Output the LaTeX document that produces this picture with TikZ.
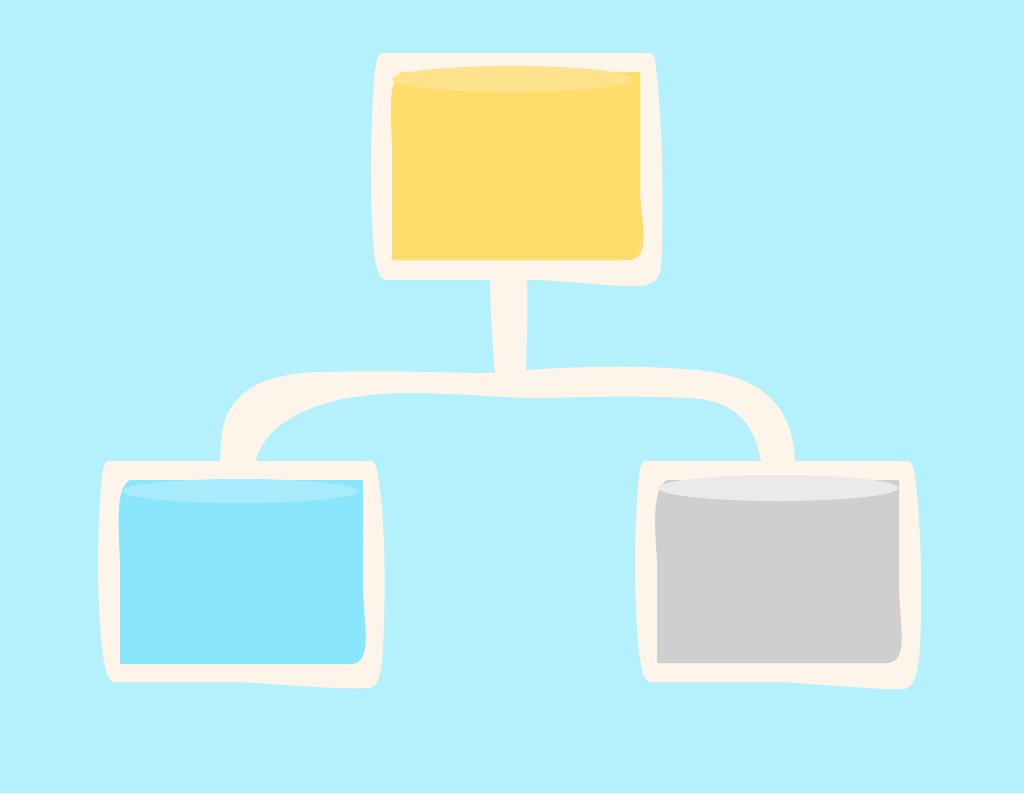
\documentclass[tikz,border=0pt]{standalone}
\definecolor{bgblue}{HTML}{B5F0FD}
\definecolor{cream}{HTML}{FDF5EA}
\definecolor{yel}{HTML}{FFDD6A}
\definecolor{yelhi}{HTML}{FFE38C}
\definecolor{blu}{HTML}{8AE6FD}
\definecolor{bluhi}{HTML}{A8EBFC}
\definecolor{gry}{HTML}{CFCFCF}
\definecolor{gryhi}{HTML}{EAEAE8}
\tikzset{
  frame/.style={fill=cream, draw=none},
  link/.style={fill=cream, draw=none},
  ytank/.style={fill=yel, draw=none},
  btank/.style={fill=blu, draw=none},
  gtank/.style={fill=gry, draw=none},
}
\begin{document}
\begin{tikzpicture}[x=1pt,y=-1pt]
\fill[bgblue] (0,0) rectangle (1024,793);
\useasboundingbox (0,0) rectangle (1024,793);
% connector
\path[link] (220,463) -- (221,440) .. controls (225,392) and (262,374) .. (318,372)
  .. controls (400,370) and (450,373) .. (495,373)
  .. controls (492,340) and (490,300) .. (490,278) -- (527,278)
  .. controls (528,300) and (527,340) .. (526,370)
  .. controls (600,365) and (660,366) .. (705,371)
  .. controls (765,378) and (794,410) .. (795,463) -- (761,463)
  .. controls (756,425) and (735,400) .. (690,398)
  .. controls (620,395) and (560,398) .. (540,398)
  .. controls (500,398) and (460,393) .. (410,393)
  .. controls (320,393) and (265,420) .. (255,463) -- cycle;
% top box
\path[frame] (383,53) -- (649,53) .. controls (653,53) and (654,55) .. (655,60)
  .. controls (661,100) and (665,200) .. (661,268)
  .. controls (659,282) and (650,286) .. (635,286)
  .. controls (600,286) and (560,280) .. (530,280) -- (387,280)
  .. controls (377,280) and (373,260) .. (372,220)
  .. controls (370,180) and (371,120) .. (374,80)
  .. controls (376,60) and (378,53) .. (383,53) -- cycle;
\path[ytank] (402,72) -- (640,72) -- (640,190) .. controls (641,215) and (645,232) .. (643,245)
  .. controls (641,256) and (636,260) .. (628,260)
  -- (392,260) -- (392,140) .. controls (390,110) and (389,78) .. (402,72) -- cycle;
\fill[yelhi] (512,79) ellipse [x radius=120, y radius=13];
% left box
\path[frame] (111,461) -- (370,461) .. controls (374,461) and (376,465) .. (377,470)
  .. controls (383,500) and (386,560) .. (384,620)
  .. controls (383,660) and (382,685) .. (370,688)
  .. controls (330,690) and (260,682) .. (230,682) -- (114,682)
  .. controls (104,682) and (99,640) .. (98,570)
  .. controls (98,520) and (101,475) .. (104,466)
  .. controls (105,462) and (107,461) .. (111,461) -- cycle;
\path[btank] (130,480) -- (363,480) -- (363,590) .. controls (364,615) and (367,635) .. (365,648)
  .. controls (363,660) and (358,664) .. (350,664)
  -- (120,664) -- (120,560) .. controls (118,520) and (116,488) .. (130,480) -- cycle;
\fill[bluhi] (240,491) ellipse [x radius=118, y radius=12];
% right box
\path[frame] (648,461) -- (907,461) .. controls (911,461) and (913,465) .. (914,470)
  .. controls (919,500) and (922,560) .. (921,620)
  .. controls (920,660) and (918,685) .. (905,689)
  .. controls (870,690) and (800,682) .. (770,682) -- (650,682)
  .. controls (640,682) and (636,640) .. (635,570)
  .. controls (635,520) and (638,475) .. (641,466)
  .. controls (642,462) and (644,461) .. (648,461) -- cycle;
\path[gtank] (667,480) -- (899,480) -- (899,590) .. controls (900,615) and (903,635) .. (901,648)
  .. controls (899,659) and (894,663) .. (886,663)
  -- (657,663) -- (657,560) .. controls (654,520) and (653,488) .. (667,480) -- cycle;
\fill[gryhi] (778,488) ellipse [x radius=120, y radius=13];
\end{tikzpicture}
\end{document}
